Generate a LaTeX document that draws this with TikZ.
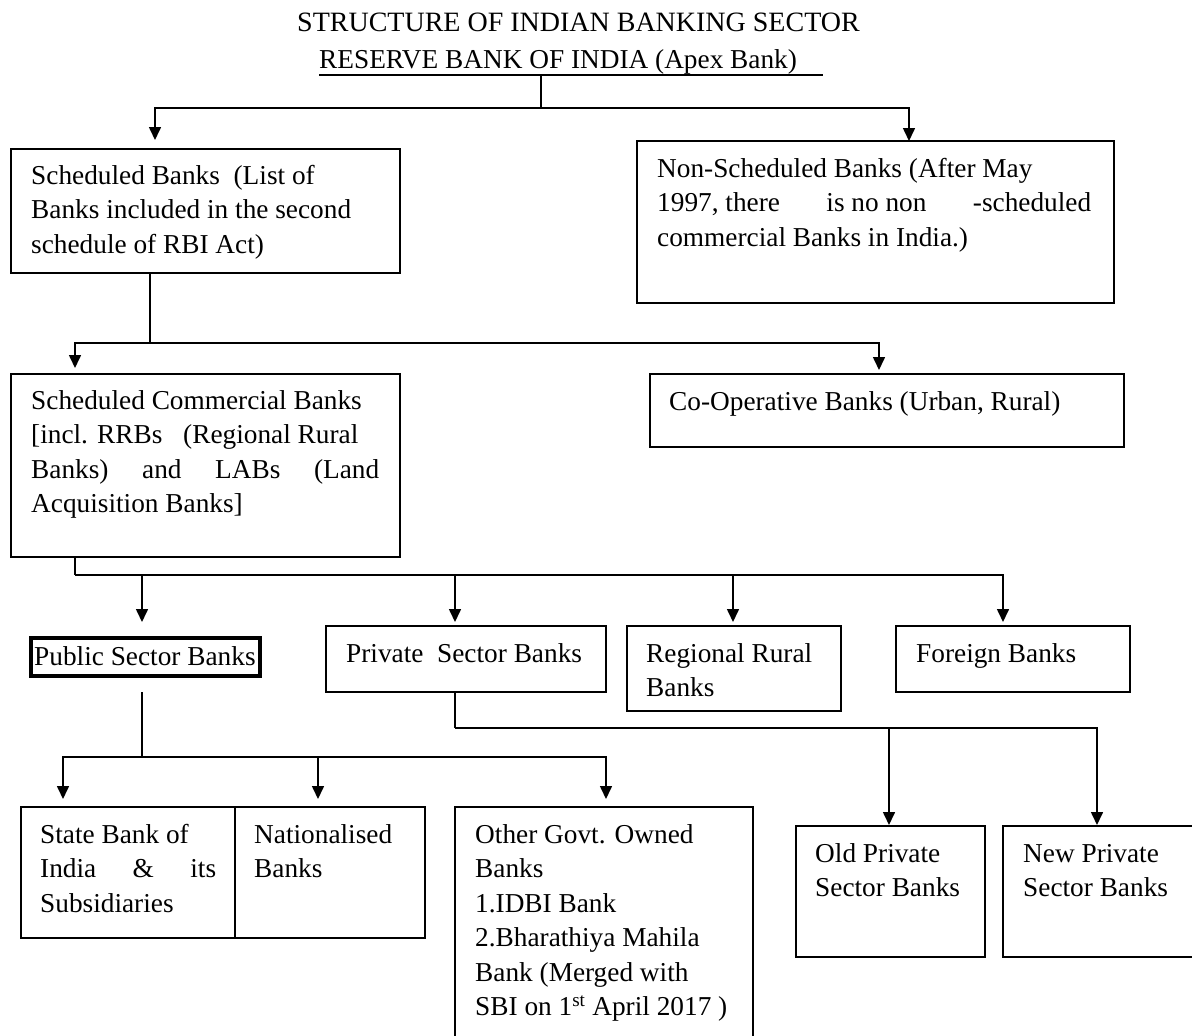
\documentclass[tikz,border=0pt]{standalone}
\usepackage{fontspec}
\setmainfont{Liberation Serif}
\usetikzlibrary{arrows.meta}
\newcommand\Lines[1]{\vtop{#1}}
\newcommand\Ln[1]{\hbox{#1}}
\begin{document}
\begin{tikzpicture}[x=1pt,y=-1pt,
  box/.style={draw, line width=1.5pt, inner sep=0pt, outer sep=0pt, anchor=north west},
  thickbox/.style={draw, line width=3.5pt, inner sep=0pt, outer sep=0pt, anchor=north west},
  txt/.style={anchor=base west, inner sep=0pt, font=\fontsize{27.3}{34.5}\selectfont},
  ttl/.style={anchor=base west, inner sep=0pt, font=\fontsize{28}{34}\selectfont},
  ln/.style={line width=1.6pt},
  arr/.style={line width=1.6pt, -{Triangle[length=13pt,width=12pt]}}]
\useasboundingbox (0,0) rectangle (1192,1036);
\fill[white] (0,0) rectangle (1192,1036);
\clip (0,0) rectangle (1192,1036);

% ---------- boxes ----------
\node[box, minimum width=389pt, minimum height=124pt] (sb)   at (11,149)  {};
\node[box, minimum width=477pt, minimum height=162pt] (ns)   at (637,141) {};
\node[box, minimum width=389pt, minimum height=183pt] (scb)  at (11,374)  {};
\node[box, minimum width=474pt, minimum height=73pt]  (coop) at (650,374) {};
\node[thickbox, minimum width=229pt, minimum height=38pt] (pub) at (31,638) {};
\node[box, minimum width=280pt, minimum height=66pt]  (priv) at (326,626) {};
\node[box, minimum width=214pt, minimum height=85pt]  (rrb)  at (627,626) {};
\node[box, minimum width=234pt, minimum height=66pt]  (frn)  at (896,626) {};
\node[box, minimum width=214pt, minimum height=131pt] (sbi)  at (21,807)  {};
\node[box, minimum width=190pt, minimum height=131pt] (nat)  at (235,807) {};
\node[box, minimum width=298pt, minimum height=240pt] (oth)  at (455,807) {};
\node[box, minimum width=189pt, minimum height=131pt] (old)  at (796,826) {};
\node[box, minimum width=200pt, minimum height=131pt] (new)  at (1003,826) {};

% ---------- texts ----------
\node[ttl] (title) at (297,31) {STRUCTURE OF INDIAN BANKING SECTOR};
\node[txt] (rbi) at (319,68) {RESERVE BANK OF INDIA (Apex Bank)};
\draw[line width=1.8pt] ([yshift=-7pt]rbi.base west) -- ++(504,0);

\node[txt] (sbT) at (31,184) {\Lines{\Ln{Scheduled Banks\ \ (List of}\Ln{Banks included in the second}\Ln{schedule of RBI Act)}}};
\node[txt] (nsT) at (657,177) {\Lines{\Ln{Non-Scheduled Banks (After May}\Ln{\hbox to 434pt{1997, there\hfill is no non\hfill -scheduled}}\Ln{commercial Banks in India.)}}};
\node[txt] (scbT) at (31,409) {\Lines{\Ln{Scheduled Commercial Banks}\Ln{[incl. RRBs\hspace{14pt} (Regional Rural}\Ln{\hbox to 348pt{Banks)\hfill and\hfill LABs\hfill (Land}}\Ln{Acquisition Banks]}}};
\node[txt] (coopT) at (669,410) {Co-Operative Banks (Urban, Rural)};
\node[txt] (pubT) at (34,665) {Public Sector Banks};
\node[txt] (privT) at (346,662) {Private\ \ Sector Banks};
\node[txt] (rrbT) at (646,662) {\Lines{\Ln{Regional Rural}\Ln{Banks}}};
\node[txt] (frnT) at (916,662) {Foreign Banks};
\node[txt] (sbiT) at (40,843) {\Lines{\Ln{State Bank of}\Ln{\hbox to 176pt{India\hfill\&\hfill its}}\Ln{Subsidiaries}}};
\node[txt] (natT) at (254,843) {\Lines{\Ln{Nationalised}\Ln{Banks}}};
\node[txt] (othT) at (475,843) {\Lines{\Ln{Other Govt. Owned}\Ln{Banks}\Ln{1.IDBI Bank}\Ln{2.Bharathiya Mahila}\Ln{Bank (Merged with}\Ln{SBI on 1\textsuperscript{st} April 2017 )}}};
\node[txt] (oldT) at (815,862) {\Lines{\Ln{Old Private}\Ln{Sector Banks}}};
\node[txt] (newT) at (1023,862) {\Lines{\Ln{New Private}\Ln{Sector Banks}}};

% ---------- connector points ----------
\coordinate (rbiU) at ([xshift=222pt,yshift=-7pt]rbi.base west);
\coordinate (j1)   at ([yshift=-33pt]rbiU);
\coordinate (tSb)  at ([xshift=-50.5pt,yshift=9pt]sb.north);
\coordinate (tNs)  at ([xshift=33.5pt]ns.north);
\coordinate (sSb)  at ([xshift=-55.5pt]sb.south);
\coordinate (j2)   at ([yshift=-70pt]sSb);
\coordinate (tScb) at ([xshift=-130.5pt,yshift=6pt]scb.north);
\coordinate (tCoop) at ([xshift=-8pt,yshift=4pt]coop.north);
\coordinate (sScb) at ([xshift=-130.5pt]scb.south);
\coordinate (j3)   at ([yshift=-18pt]sScb);
\coordinate (tPub)  at ([xshift=-3.5pt,yshift=16pt]pub.north);
\coordinate (tPriv) at ([xshift=-11pt,yshift=4pt]priv.north);
\coordinate (tRrb)  at ([xshift=-1pt,yshift=4pt]rrb.north);
\coordinate (tFrn)  at ([xshift=-10pt,yshift=4pt]frn.north);
\coordinate (sPub)  at ([xshift=-3.5pt,yshift=-16pt]pub.south);
\coordinate (j4)    at ([yshift=-65pt]sPub);
\coordinate (tSbi) at ([xshift=-65pt,yshift=8pt]sbi.north);
\coordinate (tNat) at ([xshift=-12pt,yshift=8pt]nat.north);
\coordinate (tOth) at ([xshift=2pt,yshift=8pt]oth.north);
\coordinate (sPriv) at ([xshift=-11pt]priv.south);
\coordinate (j5)    at ([yshift=-36pt]sPriv);
\coordinate (tOld) at ([xshift=-1.5pt,yshift=1pt]old.north);
\coordinate (tNew) at ([xshift=-6pt,yshift=1pt]new.north);

% ---------- connectors ----------
\draw[ln] (rbiU) -- (j1);
\draw[arr] (j1) -| (tSb);
\draw[arr] (j1) -| (tNs);

\draw[ln] (sSb) -- (j2);
\draw[arr] (j2) -| (tScb);
\draw[arr] (j2) -| (tCoop);

\draw[ln] (sScb) -- (j3);
\draw[arr] (j3) -| (tFrn);
\draw[arr] (j3 -| tPub) -- (tPub);
\draw[arr] (j3 -| tPriv) -- (tPriv);
\draw[arr] (j3 -| tRrb) -- (tRrb);

\draw[ln] (sPub) -- (j4);
\draw[arr] (j4) -| (tSbi);
\draw[arr] (j4) -| (tOth);
\draw[arr] (j4 -| tNat) -- (tNat);

\draw[ln] (sPriv) -- (j5);
\draw[arr] (j5) -| (tOld);
\draw[arr] (j5) -| (tNew);
\end{tikzpicture}
\end{document}
